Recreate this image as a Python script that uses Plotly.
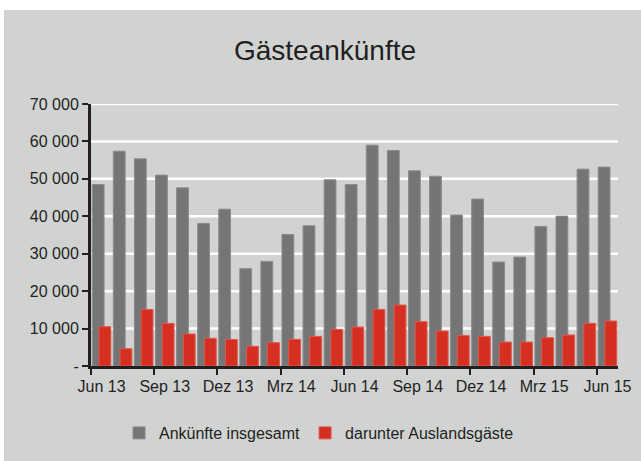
import plotly.graph_objects as go

months = ["Jun 13", "Jul 13", "Aug 13", "Sep 13", "Okt 13", "Nov 13", "Dez 13",
          "Jan 14", "Feb 14", "Mrz 14", "Apr 14", "Mai 14", "Jun 14", "Jul 14",
          "Aug 14", "Sep 14", "Okt 14", "Nov 14", "Dez 14", "Jan 15", "Feb 15",
          "Mrz 15", "Apr 15", "Mai 15", "Jun 15"]
ankuenfte = [48500, 57400, 55350, 51000, 47600, 38100, 41900, 26000, 27950,
             35150, 37470, 49750, 48500, 59000, 57600, 52150, 50700, 40320,
             44600, 27770, 29100, 37300, 40050, 52600, 53140]
ausland = [10500, 4600, 15100, 11400, 8550, 7400, 7100, 5250, 6230, 7120,
           7920, 9790, 10400, 15130, 16290, 11840, 9350, 8100, 7920, 6400,
           6400, 7560, 8280, 11400, 12020]
y_ticks = [0, 10000, 20000, 30000, 40000, 50000, 60000, 70000]
y_labels = ["-", "10 000", "20 000", "30 000", "40 000", "50 000", "60 000", "70 000"]

idx = list(range(len(months)))
label_idx = idx[::3]
label_txt = [months[i] for i in label_idx]

BG = "#d1d3d2"
GRAY = "#747576"
RED = "#d52f22"
AX = "#231f20"
FONT = "Liberation Sans, Arial, sans-serif"

fig = go.Figure()
fig.add_trace(go.Bar(x=idx, y=ankuenfte, name="Ankünfte insgesamt",
                     marker=dict(color=GRAY, line=dict(color="#8a8b8c", width=1)),
                     width=0.56, offset=-0.44))
fig.add_trace(go.Bar(x=idx, y=ausland, name="darunter Auslandsgäste",
                     marker=dict(color=RED, line=dict(color="#e0584c", width=1)),
                     width=0.56, offset=-0.12))

W, H = 641, 461
L, R, T, B = 91, 23, 104, 95
pw, ph = W - L - R, H - T - B

def px(x):
    return (x - L) / pw

def py(y):
    return (H - B - y) / ph

fig.add_shape(type="rect", xref="paper", yref="paper",
              x0=px(4), x1=px(645), y0=py(10), y1=py(465),
              fillcolor=BG, line=dict(width=0), layer="below")

x_lo, x_hi = -0.5, len(months) - 0.5
# horizontal white gridlines at the y tick values, limited to the category range
for v in y_ticks[1:]:
    fig.add_shape(type="line", xref="x", yref="y", x0=x_lo, x1=x_hi,
                  y0=v, y1=v, line=dict(color="white", width=2.5), layer="below")

fig.update_layout(
    width=W, height=H,
    autosize=False,
    margin=dict(l=L, r=R, t=T, b=B, autoexpand=False),
    paper_bgcolor="white",
    plot_bgcolor=BG,
    barmode="overlay",
    font=dict(family=FONT, size=16, color=AX),
    title=dict(text="Gästeankünfte", xref="container", x=325 / W, xanchor="center",
               yref="container", y=1 - 50 / H, yanchor="middle",
               font=dict(family=FONT, size=28, color=AX)),
    showlegend=True,
    legend=dict(orientation="h", x=px(119), xanchor="left",
                y=py(433), yanchor="middle", bgcolor="rgba(0,0,0,0)",
                font=dict(family=FONT, size=16, color=AX),
                itemclick=False),
    xaxis=dict(range=[x_lo, x_hi], tickmode="array",
               tickvals=label_idx, ticktext=label_txt, ticks="",
               showgrid=False, zeroline=False, ticklabelstandoff=4,
               showline=True, linecolor=AX, linewidth=3,
               minor=dict(tickmode="array",
                          tickvals=[i - 0.5 for i in label_idx],
                          ticks="outside", ticklen=6, tickwidth=2,
                          tickcolor=AX, showgrid=False),
               tickfont=dict(family=FONT, size=16, color=AX)),
    yaxis=dict(range=[0, 70000], tickmode="array", tickvals=y_ticks,
               ticktext=y_labels, ticks="outside", ticklen=6, tickwidth=2,
               tickcolor=AX, showline=True, linecolor=AX, linewidth=3,
               showgrid=False, zeroline=False,
               tickfont=dict(family=FONT, size=16, color=AX)),
)

fig.write_html("out.html", config={"displayModeBar": False},
               post_script="document.body.style.margin='0px';document.body.style.overflow='hidden';")
